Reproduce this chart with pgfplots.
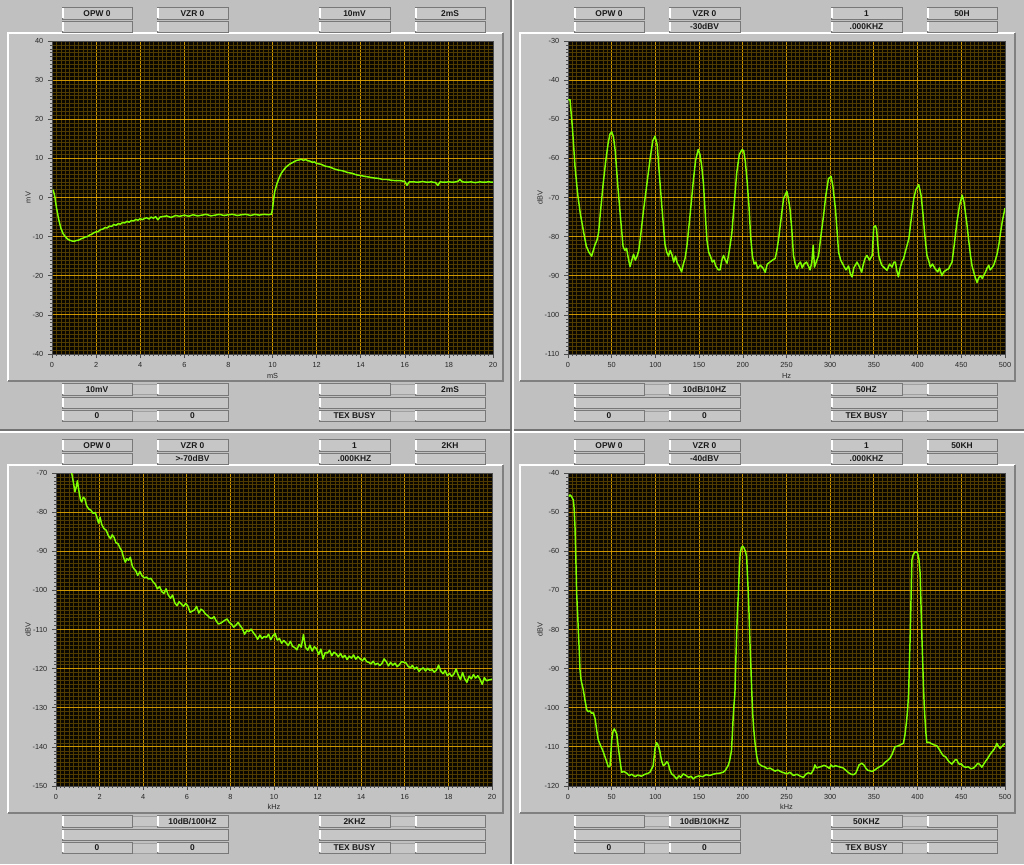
\documentclass[border=0pt]{standalone}
\usepackage{pgfplots}
\pgfplotsset{compat=1.18}
\usepackage{fontspec}
\setmainfont{Liberation Sans}
\definecolor{panelbg}{RGB}{192,192,192}
\definecolor{boxfill}{RGB}{198,198,198}
\definecolor{boxdark}{RGB}{120,120,120}
\definecolor{gridmaj}{RGB}{205,150,0}
\definecolor{gridmin}{RGB}{80,60,0}
\definecolor{trace}{RGB}{128,255,0}
\definecolor{plotbg}{RGB}{10,7,0}

\newcommand{\bfont}{\fontsize{6.3}{7}\selectfont\bfseries}
\newcommand{\stbox}[5]{%
  \fill[boxfill] (#1,#2) rectangle (#3,#4);
  \draw[boxdark, line width=0.6pt] (#1,#2) rectangle (#3,#4);
  \draw[white, line width=1.5pt] (#1+1.2,#4-0.8) -- (#1+1.2,#2+0.8);
  \node[font=\bfont, text=black!90, inner sep=0pt] at ({(#1+#3)/2},{(#2+#4)/2+0.3}) {#5};
}
\newcommand{\slotbox}[4]{%
  \fill[boxfill] (#1,#2) rectangle (#3,#4);
  \draw[boxdark!70, line width=0.4pt] (#1,#2) rectangle (#3,#4);
}
% top rows: xo yo r1a r1b r1c r1d r2b r2c
\newcommand{\toprows}[8]{%
  \begin{scope}[shift={(#1,#2)}]
  \stbox{62}{7}{132}{19}{#3}\stbox{157}{7}{228}{19}{#4}\stbox{319}{7}{390}{19}{#5}\stbox{415}{7}{485}{19}{#6}
  \stbox{62}{21}{132}{32}{}\stbox{157}{21}{228}{32}{#7}\stbox{319}{21}{390}{32}{#8}\stbox{415}{21}{485}{32}{}
  \end{scope}}
% bottom rows: xo yo a b c d
\newcommand{\bottomrows}[6]{%
  \begin{scope}[shift={(#1,#2)}]
  \slotbox{132}{384}{157}{394}\slotbox{390}{384}{415}{394}
  \slotbox{132}{411}{157}{421}\slotbox{390}{411}{415}{421}
  \stbox{62}{383}{132}{395}{#3}\stbox{157}{383}{228}{395}{#4}\stbox{319}{383}{390}{395}{#5}\stbox{415}{383}{485}{395}{#6}
  \stbox{62}{397}{228}{408}{}\stbox{319}{397}{485}{408}{}
  \stbox{62}{410}{132}{421}{0}\stbox{157}{410}{228}{421}{0}\stbox{319}{410}{390}{421}{TEX BUSY}\stbox{415}{410}{485}{421}{}
  \end{scope}}
\newcommand{\panelframe}[2]{%
  \begin{scope}[shift={(#1,#2)}]
  \fill[panelbg!95!white] (8,33) rectangle (503,381);
  \draw[white, line width=0.9pt] (8,381) -- (8,33) -- (503,33);
  \draw[black!50, line width=0.9pt] (8,381) -- (503,381) -- (503,33);
  \end{scope}}

\pgfplotsset{
  panel/.style={
    scale only axis, height=234.75pt, anchor=south west,
    axis background/.style={fill=plotbg},
    grid=both, minor tick num=9,
    major grid style={gridmaj, line width=0.65pt},
    minor grid style={gridmin, line width=0.45pt},
    tick align=outside, tick pos=left,
    major tick length=3pt, minor tick length=1.5pt,
    every tick/.style={black!70, line width=0.4pt},
    axis line style={black!70, line width=0.5pt},
    ticklabel style={font=\fontsize{5.5}{6}\selectfont, text=black!85},
    /pgf/number format/assume math mode=true,
    label style={font=\fontsize{5.5}{6}\selectfont, text=black!85},
    every axis plot post/.append style={trace, line width=1.1pt, mark=none, line join=round},
  }
}

\begin{document}
\begin{tikzpicture}
\begin{scope}[x=0.75pt,y=-0.75pt]
\fill[panelbg] (0,0) rectangle (1024,864);
\panelframe{0}{0}\panelframe{512}{0}\panelframe{0}{432}\panelframe{512}{432}
\draw[black!55, line width=1.2pt] (0,430) -- (1024,430);
\draw[white, line width=0.8pt] (0,432) -- (1024,432);
\draw[black!55, line width=1.2pt] (511,0) -- (511,864);
\draw[white, line width=0.8pt] (513,0) -- (513,864);
\toprows{0}{0}{OPW 0}{VZR 0}{10mV}{2mS}{}{}
\toprows{512}{0}{OPW 0}{VZR 0}{1}{50H}{-30dBV}{.000KHZ}
\toprows{0}{432}{OPW 0}{VZR 0}{1}{2KH}{>-70dBV}{.000KHZ}
\toprows{512}{432}{OPW 0}{VZR 0}{1}{50KH}{-40dBV}{.000KHZ}
\bottomrows{0}{0}{10mV}{}{}{2mS}
\bottomrows{512}{0}{}{10dB/10HZ}{50HZ}{}
\bottomrows{0}{432}{}{10dB/100HZ}{2KHZ}{}
\bottomrows{512}{432}{}{10dB/10KHZ}{50KHZ}{}
\end{scope}

% ---------------- top-left: time domain
\begin{axis}[panel, at={(39pt,-265.5pt)}, width=330.75pt,
  xmin=0, xmax=20, ymin=-40, ymax=40,
  xtick={0,2,...,20}, ytick={-40,-30,...,40},
  xlabel={mS}, ylabel={mV},
  xlabel style={at={(axis description cs:0.5,-0.07)}, anchor=center},
  ylabel style={at={(axis description cs:-0.054,0.5)}, anchor=center}]
\addplot coordinates {
(0.05,2.0)(0.12,0.5)(0.2,-2.5)(0.3,-5.5)(0.4,-7.8)(0.5,-9.2)(0.6,-10.0)(0.7,-10.6)(0.8,-10.9)(0.9,-11.1)
(1.0,-11.2)(1.1,-11.0)(1.2,-10.9)(1.3,-10.6)(1.4,-10.4)(1.5,-10.1)(1.6,-10.0)(1.7,-9.6)(1.8,-9.4)(1.9,-9.0)
(2.0,-8.8)(2.1,-8.7)(2.2,-8.2)(2.3,-8.1)(2.4,-7.7)(2.5,-7.8)(2.6,-7.3)(2.7,-7.4)(2.8,-6.9)(2.9,-7.1)
(3.0,-6.7)(3.1,-6.8)(3.2,-6.4)(3.3,-6.5)(3.4,-6.1)(3.5,-6.3)(3.6,-5.9)(3.7,-6.0)(3.8,-5.6)(3.9,-5.8)
(4.0,-5.4)(4.1,-5.7)(4.2,-5.3)(4.3,-5.2)(4.4,-5.5)(4.5,-5.0)(4.6,-5.3)(4.7,-4.9)(4.8,-5.7)(4.9,-5.0)
(5.0,-4.9)(5.2,-4.7)(5.4,-5.1)(5.6,-4.6)(5.8,-4.8)(6.0,-4.5)(6.2,-4.8)(6.4,-4.4)(6.6,-4.7)(6.8,-4.5)
(7.0,-4.3)(7.2,-4.7)(7.4,-4.5)(7.6,-4.3)(7.8,-4.6)(8.0,-4.4)(8.2,-4.3)(8.4,-4.6)(8.6,-4.4)(8.8,-4.3)
(9.0,-4.6)(9.2,-4.3)(9.4,-4.5)(9.6,-4.3)(9.8,-4.4)(9.95,-4.3)(10.0,-3.0)(10.05,-0.5)(10.1,1.5)(10.2,3.5)
(10.3,5.0)(10.4,6.2)(10.5,7.0)(10.6,7.7)(10.7,8.2)(10.8,8.6)(10.9,8.9)(11.0,9.2)(11.1,9.5)(11.2,9.6)
(11.3,9.8)(11.4,9.5)(11.5,9.7)(11.6,9.4)(11.7,9.3)(11.8,9.0)(11.9,9.1)(12.0,8.7)(12.2,8.5)(12.4,8.0)
(12.6,7.8)(12.8,7.3)(13.0,7.0)(13.2,6.8)(13.4,6.4)(13.6,6.2)(13.8,5.8)(14.0,5.6)(14.2,5.4)(14.4,5.2)
(14.6,5.0)(14.8,4.9)(15.0,4.6)(15.2,4.6)(15.4,4.4)(15.6,4.3)(15.8,4.3)(16.0,4.1)(16.1,3.1)(16.2,4.0)
(16.4,4.0)(16.6,3.9)(16.8,4.1)(17.0,3.9)(17.2,4.0)(17.4,3.8)(17.5,3.1)(17.6,4.0)(17.8,3.9)(18.0,4.0)
(18.2,3.9)(18.4,4.1)(18.5,4.6)(18.6,4.0)(18.8,3.9)(19.0,4.0)(19.2,3.8)(19.4,4.0)(19.6,3.9)(19.8,4.0)(20.0,3.9)
};
\end{axis}

% ---------------- top-right: 0-500 Hz spectrum
\begin{axis}[panel, at={(426pt,-265.5pt)}, width=327.75pt,
  xmin=0, xmax=500, ymin=-110, ymax=-30,
  xtick={0,50,...,500}, ytick={-110,-100,...,-30},
  xlabel={Hz}, ylabel={dBV},
  xlabel style={at={(axis description cs:0.5,-0.069)}, anchor=center},
  ylabel style={at={(axis description cs:-0.064,0.5)}, anchor=center}]
\addplot coordinates {
(0,-45)(2.3,-45)(5,-52)(8,-62)(11,-69)(14,-74)(18,-79)(21,-82.5)(24,-84)(27,-85)(29,-83.5)(31,-82)(33,-81)(35,-79)(37,-74)
(40,-67)(43,-61)(46,-56)(48,-53.8)(50,-53.2)(52,-54.5)(54,-58)(57,-67)(60,-75)(63,-82.5)(65,-83.5)(67,-83)(69,-85.5)(71,-87.7)
(73,-86)(75,-84.5)(77,-86)(79,-85)(81,-83.5)(83,-80)(86,-74)(90,-67)(94,-60)(97,-55.5)(99.6,-54.3)(102,-56.5)(105,-65.5)
(108,-74)(111,-82)(113,-84)(115,-85)(117,-83.5)(119,-84.7)(121,-86.5)(123,-85)(125,-86.8)(127,-87.5)(130,-89)(132,-87)
(134,-85.5)(136,-82.5)(139,-76)(143.5,-65.5)(146,-60.5)(149,-57.7)(151,-59)(153,-62)(155,-66.5)(157,-74)(159,-81)(161,-84)
(163,-85)(165,-86.5)(167,-86)(169,-87.5)(172,-88.5)(174,-88.5)(176,-86)(178,-84.8)(180,-86)(182,-86.8)(185,-83)(187.5,-79)
(190,-72)(193,-63.8)(196,-59)(199,-57.8)(201,-58)(203,-61)(205,-66)(207,-72)(209,-80)(211,-85)(213,-87)(215,-86.5)(217,-88.2)
(220,-87.3)(223,-88)(225.6,-89.1)(228,-87)(231,-86.5)(234,-86)(237,-85.6)(239,-83.5)(241,-80.5)(244,-75)(246.6,-70.3)
(250.4,-68.4)(252,-70)(254,-72.9)(256,-78)(258,-84.8)(260,-87)(262,-88.2)(264,-87)(266,-86.5)(268,-88)(270,-87)(273,-86.5)
(275,-87.5)(277,-88.5)(279,-86.5)(280.5,-82.2)(282,-87.8)(284,-86.5)(286.7,-84.8)(289,-80.5)(292.4,-74.6)(295,-69.5)(298,-65.2)
(301,-64.6)(303,-67)(306,-72.9)(308,-79)(309.6,-84)(312,-86)(315,-87.3)(318,-88.5)(321,-87.5)(323,-89.5)(325,-90.3)(327,-88)
(330.7,-86.5)(333,-87.5)(336,-89.1)(338,-87)(340,-85.5)(342,-84.8)(345,-86)(348,-84.8)(349.8,-77.6)(351.7,-77.2)(353,-78)
(355.5,-84.8)(357,-86)(359,-87.3)(362,-88)(365,-88.6)(368,-87)(370.7,-87.8)(373,-86.5)(374.6,-86.5)(376,-88.5)(378,-90.3)
(380,-88)(382,-86.5)(384,-85.6)(387,-83)(390,-80.5)(393,-75)(395.6,-70.3)(398,-68)(401.3,-66.7)(404,-69.5)(406,-73.8)(408,-79)
(410.7,-84.8)(412.5,-86)(414.6,-87.8)(417,-87)(420,-88.2)(423,-89)(425,-88)(427.8,-90)(430,-89)(433,-88.5)(435.6,-88.2)
(437,-87.5)(439.4,-86.5)(442,-82)(445,-76.3)(448,-72)(451,-69.4)(453,-71)(456.6,-77.1)(458.5,-81)(460.5,-84.8)(462.3,-87.5)
(464.3,-89.1)(466,-90.5)(468,-91.7)(470,-90.5)(472,-90)(474,-90.7)(477.6,-89.1)(479.5,-88)(481.4,-87.3)(483,-88.5)(485,-88)
(487,-87.3)(489,-86)(491,-84.4)(493,-82)(494.8,-79.1)(497,-76)(500,-72.7)
};
\end{axis}

% ---------------- bottom-left: 0-20 kHz noise
\begin{axis}[panel, at={(42pt,-589.5pt)}, width=327pt,
  xmin=0, xmax=20, ymin=-150, ymax=-70,
  xtick={0,2,...,20}, ytick={-150,-140,...,-70},
  xlabel={kHz}, ylabel={dBV},
  xlabel style={at={(axis description cs:0.5,-0.066)}, anchor=center},
  ylabel style={at={(axis description cs:-0.064,0.5)}, anchor=center}]
\addplot coordinates {
(0.72,-70)(0.80,-72.5)(0.87,-74.8)(0.93,-73.5)(0.98,-72)(1.05,-74.5)(1.12,-76.8)(1.18,-77.4)(1.25,-76.2)(1.32,-76.5)
(1.40,-78.3)(1.50,-79.2)(1.60,-79.5)(1.70,-80.3)(1.80,-80.1)(1.87,-81.2)(1.95,-82.8)(2.02,-81.3)(2.10,-83.2)(2.20,-84.2)
(2.30,-84.6)(2.40,-86.0)(2.50,-86.8)(2.58,-85.8)(2.66,-86.4)(2.75,-87.8)(2.85,-88.1)(2.94,-89.2)(3.02,-89.9)(3.10,-91.6)
(3.18,-92.8)(3.25,-91.9)(3.33,-92.3)(3.41,-91.5)(3.50,-93.8)(3.58,-94.5)(3.66,-95.0)(3.75,-96.2)(3.85,-95.2)(3.95,-96.3)
(4.05,-96.8)(4.15,-96.6)(4.25,-97.1)(4.35,-96.9)(4.45,-97.8)(4.55,-98.4)(4.65,-99.6)(4.75,-99.0)(4.85,-100.3)(4.95,-100.8)
(5.05,-99.6)(5.15,-101.2)(5.25,-102.0)(5.35,-101.2)(5.45,-103.2)(5.55,-103.9)(5.65,-102.9)(5.75,-103.5)(5.85,-104.1)(5.95,-103.3)
(6.05,-104.0)(6.15,-105.6)(6.25,-105.3)(6.35,-105.0)(6.45,-104.1)(6.55,-105.8)(6.65,-104.8)(6.75,-105.2)(6.85,-106.0)(6.95,-106.4)
(7.05,-107.0)(7.15,-107.2)(7.25,-106.7)(7.35,-107.8)(7.45,-108.6)(7.55,-108.4)(7.65,-108.0)(7.75,-107.6)(7.85,-107.3)(7.95,-108.2)
(8.05,-108.6)(8.15,-109.4)(8.25,-108.9)(8.35,-108.2)(8.45,-109.0)(8.55,-109.8)(8.65,-111.2)(8.75,-110.3)(8.85,-110.5)(8.95,-109.9)
(9.05,-110.8)(9.15,-111.5)(9.25,-112.5)(9.35,-111.4)(9.45,-112.3)(9.55,-111.8)(9.65,-112.0)(9.75,-111.2)(9.85,-112.6)(9.95,-111.6)
(10.05,-111.0)(10.15,-112.7)(10.25,-112.3)(10.35,-113.5)(10.45,-112.8)(10.55,-113.4)(10.65,-114.1)(10.75,-113.0)(10.85,-114.3)(10.95,-114.6)
(11.05,-115.2)(11.15,-113.8)(11.25,-114.5)(11.35,-111.3)(11.45,-114.6)(11.55,-115.3)(11.65,-114.0)(11.75,-115.5)(11.85,-114.4)(11.95,-114.9)
(12.05,-116.4)(12.15,-115.0)(12.25,-117.5)(12.35,-115.9)(12.45,-116.0)(12.55,-115.3)(12.65,-116.7)(12.75,-115.8)(12.85,-116.2)(12.95,-117.0)
(13.05,-116.1)(13.15,-117.2)(13.25,-116.6)(13.35,-117.7)(13.45,-116.8)(13.55,-117.3)(13.65,-116.5)(13.75,-117.6)(13.85,-116.9)(13.95,-117.5)
(14.05,-118.0)(14.15,-117.3)(14.25,-118.2)(14.35,-118.4)(14.45,-118.8)(14.55,-118.1)(14.65,-119.0)(14.75,-118.6)(14.85,-119.2)(14.95,-118.7)
(15.05,-117.5)(15.15,-118.2)(15.25,-119.3)(15.35,-118.4)(15.45,-119.1)(15.55,-118.6)(15.65,-119.5)(15.75,-119.0)(15.85,-118.2)(16.05,-118.5)
(16.15,-119.4)(16.25,-119.8)(16.35,-119.2)(16.45,-120.1)(16.55,-119.6)(16.65,-120.7)(16.75,-120.1)(16.85,-119.8)(16.95,-120.6)(17.05,-119.9)
(17.15,-120.5)(17.25,-120.2)(17.35,-120.9)(17.45,-120.4)(17.55,-119.1)(17.65,-120.6)(17.75,-121.3)(17.85,-120.5)(17.95,-121.8)(18.05,-121.2)
(18.15,-122.0)(18.25,-121.4)(18.35,-120.1)(18.45,-121.6)(18.55,-122.8)(18.65,-121.0)(18.75,-122.6)(18.85,-123.5)(18.95,-121.9)(19.05,-122.6)
(19.15,-121.5)(19.25,-122.4)(19.35,-121.8)(19.45,-122.7)(19.55,-124.0)(19.65,-122.3)(19.75,-123.1)(19.85,-122.9)(20.0,-122.7)
};
\end{axis}

% ---------------- bottom-right: 0-500 kHz spectrum
\begin{axis}[panel, at={(426pt,-589.5pt)}, width=327.75pt,
  xmin=0, xmax=500, ymin=-120, ymax=-40,
  xtick={0,50,...,500}, ytick={-120,-110,...,-40},
  xlabel={kHz}, ylabel={dBV},
  xlabel style={at={(axis description cs:0.5,-0.066)}, anchor=center},
  ylabel style={at={(axis description cs:-0.064,0.5)}, anchor=center}]
\addplot coordinates {
(1,-46)(2.3,-45.6)(4,-46)(6.1,-46.9)(7,-49)(8,-53.7)(9,-62)(9.9,-70.7)(11,-76)(11.8,-80.1)(13,-86)(13.7,-90.3)(15,-93)
(17.5,-95.4)(19,-97.5)(21.4,-100.5)(23,-101)(25,-100.8)(27,-101.4)(29,-101.3)(31,-102.8)(33,-106)(34.7,-108.3)(37,-109.5)
(40.4,-111.3)(43,-113)(46.1,-115.1)(48,-115)(49,-112)(50,-108.3)(51.5,-106)(53,-105.4)(55.7,-106.6)(57.5,-110)(59.5,-113.5)
(61.4,-116.5)(64,-116.3)(67.1,-116.7)(70,-117.3)(73,-117)(76.6,-117.6)(80,-117.2)(84,-117.5)(88,-117.0)(91,-116.8)(93.7,-116.5)
(97.5,-114.8)(99.5,-110.5)(101.3,-108.9)(103,-109.5)(105,-111)(107,-113.5)(109,-114.8)(111,-114.5)(113,-113.8)(114.6,-114.2)
(116.5,-115.8)(118.5,-116.9)(121,-117.3)(124.2,-118.2)(127,-117.4)(129,-117.8)(131.8,-116.9)(135,-117.3)(138,-117.8)(141,-117.5)
(143.2,-118.2)(146,-117.7)(150,-117.4)(154,-117.6)(158,-117.1)(162.3,-117.3)(166,-117.0)(170,-116.8)(174,-116.7)(177.5,-116.5)
(180,-116)(183.2,-114.8)(185,-113.5)(187,-111)(188,-107)(189,-102.4)(190,-99)(191,-96.3)(192,-88)(193,-81)(194,-75)(195,-70.7)
(196,-64.5)(197,-60.5)(198.5,-59)(200,-58.7)(201.5,-59.2)(203,-60)(204.4,-61.4)(205.3,-66)(206.3,-70.7)(207.3,-77)(208.3,-84.1)
(209.5,-91)(210.3,-96)(211.3,-101.4)(212.5,-105.5)(214,-109)(216,-112.5)(217.8,-114.2)(220,-114.6)(222,-114.9)(225,-115.1)
(228,-115.6)(231,-115.4)(234,-115.8)(237,-116.2)(240,-115.9)(244,-116.4)(247,-116.6)(250.3,-116.9)(254,-116.5)(258,-117.3)
(262,-117.0)(266,-117.5)(269.3,-117.8)(272,-117.0)(275,-116.6)(278,-116.9)(281,-115.8)(282.5,-114.6)(284.5,-115.4)(287,-115.2)
(290,-115.0)(293,-114.7)(296,-115)(299,-115.5)(301,-114.6)(303,-115.1)(306,-114.8)(309,-115.0)(312,-115.2)(315,-115.4)(318,-116.0)
(321,-116.6)(324,-117.0)(326.5,-117.1)(329,-116.8)(331,-115.8)(333,-114.6)(336,-114.2)(338.5,-114.6)(341,-115.5)(343,-116.0)
(345.5,-116.1)(348,-116.3)(351,-115.9)(354,-115.4)(357,-115.0)(360,-114.7)(363,-113.9)(366,-113.4)(368.4,-112.9)(371,-111.8)
(374,-110)(377,-109.8)(380,-109.5)(383.7,-109.1)(385.5,-107)(387.5,-103.2)(388.7,-100)(389.7,-96.3)(390.6,-89)(391.6,-81.1)
(392.5,-72)(393.5,-62.2)(394.8,-61)(396.5,-60.3)(398.4,-60.1)(400,-60.5)(401.5,-62)(402.9,-65.7)(403.8,-73)(404.8,-81.1)
(405.8,-88)(406.8,-95)(407.7,-100)(408.6,-103.3)(409.5,-106.5)(410.6,-108.9)(413,-108.8)(416,-109.2)(419,-109.5)(422,-109.7)
(425,-110.7)(427,-111.5)(429.6,-112.3)(432,-112.5)(434,-113.2)(436,-113.8)(439.2,-114.4)(441,-113.9)(443,-113.3)(444.9,-113.3)
(446.5,-114.1)(448,-114.5)(450,-114.3)(452.4,-115)(455,-115.2)(458,-115.1)(461,-115.6)(463.9,-115.4)(466,-115.0)(468,-114.4)
(469.6,-114.2)(471.5,-114.6)(473.5,-115.2)(476,-114.3)(478,-113.6)(480,-113)(483,-111.9)(485,-111.3)(487,-110.8)(489,-110.0)
(490.6,-109.1)(492.5,-109.8)(494.4,-110.4)(496,-110.0)(498,-109.5)(500,-109.1)
};
\end{axis}
\pgfresetboundingbox
\useasboundingbox (0,0) rectangle (768pt,-648pt);
\end{tikzpicture}
\end{document}
